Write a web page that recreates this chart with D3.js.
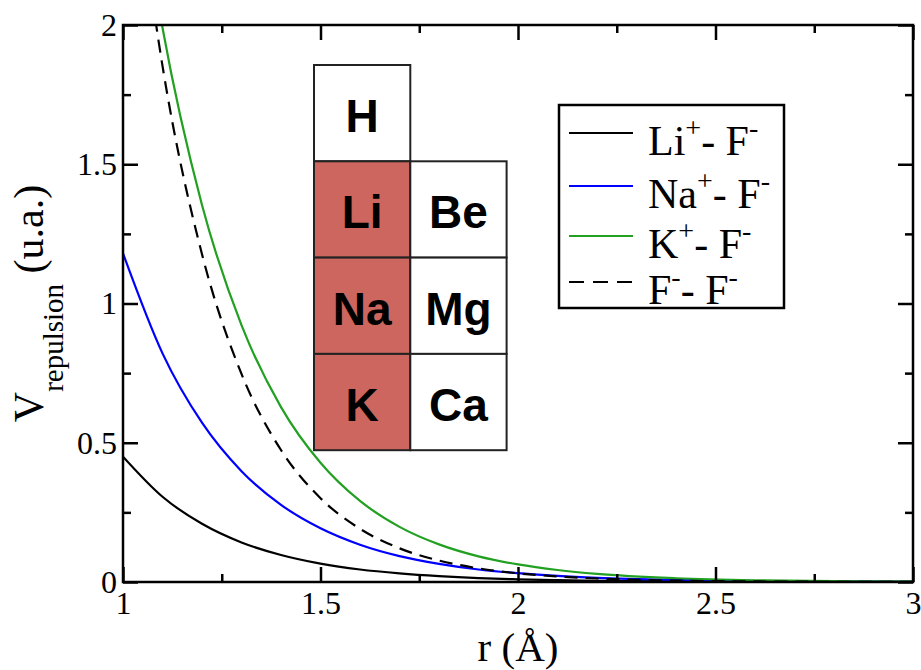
<!DOCTYPE html>
<html>
<head>
<meta charset="utf-8">
<script src="https://cdn.jsdelivr.net/npm/d3@7"></script>
<style>
  html, body { margin: 0; padding: 0; background: #fff; }
  svg { display: block; }
  .serif { font-family: "Liberation Serif", "Times New Roman", serif; }
</style>
</head>
<body>
<svg id="chart" width="921" height="670"></svg>
<script>
// distance r (Å) and repulsion energy (u.a.)
const rValues  = [1.0, 1.1, 1.2, 1.3, 1.4, 1.5, 1.6, 1.7, 1.8, 1.9, 2.0, 2.1, 2.2, 2.4, 2.6, 2.8, 3.0];
const liF      = [0.45, 0.306, 0.209, 0.142, 0.097, 0.066, 0.045, 0.031, 0.021, 0.014, 0.0096, 0.0065, 0.0045, 0.002, 0.001, 0.0005, 0.0002];
const naF      = [1.18, 0.821, 0.572, 0.398, 0.277, 0.193, 0.134, 0.093, 0.065, 0.045, 0.032, 0.022, 0.015, 0.0073, 0.0035, 0.0017, 0.0008];
const kF       = [2.92, 1.99, 1.354, 0.922, 0.628, 0.428, 0.291, 0.198, 0.135, 0.092, 0.063, 0.043, 0.029, 0.0135, 0.006, 0.003, 0.0013];
const fF       = [2.92, 1.853, 1.177, 0.747, 0.474, 0.301, 0.191, 0.121, 0.077, 0.049, 0.031, 0.020, 0.0125, 0.005, 0.002, 0.0008, 0.0003];

const seriesNames  = ['Li', 'Na', 'K', 'F'];
const seriesCharge = ['+', '+', '+', '-'];
const seriesColors = ['#000000', '#0000ff', '#22a022', '#000000'];
const seriesDash   = [null, null, null, '13,8'];
const seriesValues = [liF, naF, kF, fF];

const xMajor = [1, 1.5, 2, 2.5, 3];
const xMinor = [1.25, 1.75, 2.25, 2.75];
const yMajor = [0, 0.5, 1, 1.5, 2];
const yMinor = [0.25, 0.75, 1.25, 1.75];

// periodic table inset: [symbol, column, row, highlighted]
const tableCells = [
  ['H', 0, 0, false],
  ['Li', 0, 1, true], ['Be', 1, 1, false],
  ['Na', 0, 2, true], ['Mg', 1, 2, false],
  ['K', 0, 3, true],  ['Ca', 1, 3, false]
];

const svg = d3.select('#chart');
const margin = { top: 25, right: 8, bottom: 88, left: 123 };
const W = 921, H = 670;
const w = W - margin.left - margin.right;
const h = H - margin.top - margin.bottom;

const x = d3.scaleLinear().domain([1, 3]).range([0, w]);
const y = d3.scaleLinear().domain([0, 2]).range([h, 0]);

const g = svg.append('g').attr('transform', `translate(${margin.left},${margin.top})`);

svg.append('defs').append('clipPath').attr('id', 'plotclip')
  .append('rect').attr('x', 0).attr('y', 0).attr('width', w).attr('height', h);

// curves
const line = d3.line().x(d => x(d[0])).y(d => y(d[1])).curve(d3.curveMonotoneX);
const curves = g.append('g').attr('clip-path', 'url(#plotclip)');
seriesValues.forEach((vals, i) => {
  curves.append('path')
    .datum(rValues.map((r, j) => [r, vals[j]]))
    .attr('d', line)
    .attr('fill', 'none')
    .attr('stroke', seriesColors[i])
    .attr('stroke-width', 2.2)
    .attr('stroke-dasharray', seriesDash[i]);
});

// axes (ticks inward on all four sides)
function styleAxis(sel) {
  sel.select('.domain').remove();
  sel.selectAll('.tick line').attr('stroke', '#000').attr('stroke-width', 2.5);
  sel.selectAll('.tick text').attr('class', 'serif').attr('font-size', 32).attr('fill', '#000');
}
const fmt = d => d3.format('')(d);

g.append('g').attr('transform', `translate(0,${h})`)
  .call(d3.axisBottom(x).tickValues(xMajor).tickFormat(fmt).tickSizeInner(-15).tickSizeOuter(0).tickPadding(9))
  .call(styleAxis);
g.append('g').attr('transform', `translate(0,${h})`)
  .call(d3.axisBottom(x).tickValues(xMinor).tickFormat('').tickSizeInner(-8).tickSizeOuter(0))
  .call(styleAxis);
g.append('g')
  .call(d3.axisTop(x).tickValues(xMajor).tickFormat('').tickSizeInner(-15).tickSizeOuter(0))
  .call(styleAxis);
g.append('g')
  .call(d3.axisTop(x).tickValues(xMinor).tickFormat('').tickSizeInner(-8).tickSizeOuter(0))
  .call(styleAxis);

g.append('g')
  .call(d3.axisLeft(y).tickValues(yMajor).tickFormat(fmt).tickSizeInner(-15).tickSizeOuter(0).tickPadding(6))
  .call(styleAxis);
g.append('g')
  .call(d3.axisLeft(y).tickValues(yMinor).tickFormat('').tickSizeInner(-8).tickSizeOuter(0))
  .call(styleAxis);
g.append('g').attr('transform', `translate(${w},0)`)
  .call(d3.axisRight(y).tickValues(yMajor).tickFormat('').tickSizeInner(-15).tickSizeOuter(0))
  .call(styleAxis);
g.append('g').attr('transform', `translate(${w},0)`)
  .call(d3.axisRight(y).tickValues(yMinor).tickFormat('').tickSizeInner(-8).tickSizeOuter(0))
  .call(styleAxis);

g.append('rect')
  .attr('x', 0).attr('y', 0).attr('width', w).attr('height', h)
  .attr('fill', 'none').attr('stroke', '#000').attr('stroke-width', 2.5);

// periodic table inset
const cell = 96.3;
const table = svg.append('g').attr('transform', 'translate(314,65)');
const cells = table.selectAll('g.cell').data(tableCells).enter().append('g')
  .attr('transform', d => `translate(${d[1] * cell},${d[2] * cell})`);
cells.append('rect')
  .attr('width', cell).attr('height', cell)
  .attr('fill', d => d[3] ? '#cd665e' : '#fff')
  .attr('stroke', '#222').attr('stroke-width', 2);
cells.append('text')
  .attr('x', cell / 2).attr('y', cell / 2 + 19)
  .attr('text-anchor', 'middle')
  .attr('font-family', '"Liberation Sans", Arial, sans-serif')
  .attr('font-weight', 'bold')
  .attr('font-size', 46)
  .text(d => d[0]);

// legend
const legend = svg.append('g').attr('transform', 'translate(559,105)');
legend.append('rect')
  .attr('width', 225).attr('height', 203)
  .attr('fill', '#fff').attr('stroke', '#000').attr('stroke-width', 2.5);
const rowY = [28, 81, 131, 177];
seriesNames.forEach((name, i) => {
  const row = legend.append('g').attr('transform', `translate(0,${rowY[i]})`);
  row.append('line')
    .attr('x1', 10).attr('x2', 74).attr('y1', 0).attr('y2', 0)
    .attr('stroke', seriesColors[i]).attr('stroke-width', 2.2)
    .attr('stroke-dasharray', seriesDash[i] ? '15,9' : null);
  const t = row.append('text').attr('class', 'serif')
    .attr('x', 89).attr('y', 22).attr('font-size', 42).attr('fill', '#000');
  t.append('tspan').text(name);
  t.append('tspan').attr('font-size', 28).attr('dy', -18).text(seriesCharge[i]);
  t.append('tspan').attr('dy', 18).text('- F');
  t.append('tspan').attr('font-size', 28).attr('dy', -18).text('-');
});

// axis titles
svg.append('text').attr('class', 'serif')
  .attr('x', margin.left + w / 2).attr('y', 661)
  .attr('text-anchor', 'middle').attr('font-size', 41)
  .text('r (Å)');

const yt = svg.append('text').attr('class', 'serif')
  .attr('transform', `translate(43,${margin.top + h / 2}) rotate(-90)`)
  .attr('text-anchor', 'middle').attr('font-size', 42);
yt.append('tspan').text('V');
yt.append('tspan').attr('font-size', 29).attr('dy', 20).text('repulsion');
yt.append('tspan').attr('dy', -20).text(' (u.a.)');
</script>
</body>
</html>
